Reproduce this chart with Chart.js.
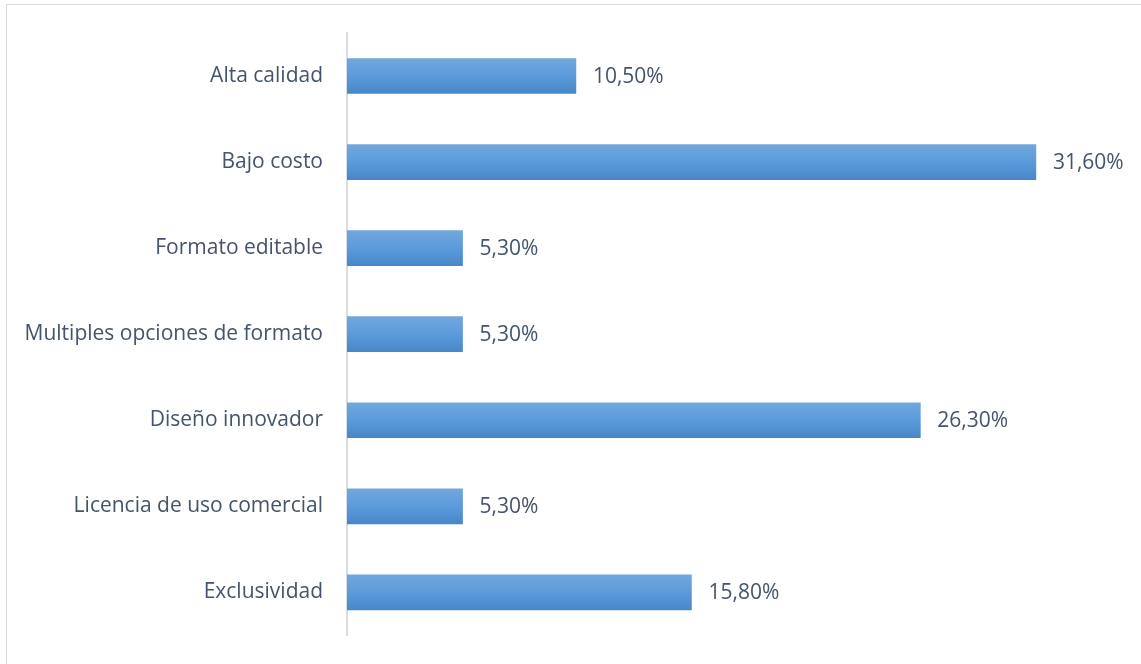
<!DOCTYPE html>
<html lang="es">
<head>
  <meta charset="UTF-8">
  <title>Atributos valorados</title>
  <script src="https://cdn.jsdelivr.net/npm/chart.js"></script>
  <style>
    html, body {
      margin: 0;
      padding: 0;
      background: #ffffff;
      overflow: hidden;
    }
    .frame {
      position: absolute;
      left: 6px;
      top: 4px;
      width: 1140px;
      height: 662px;
      border: 1px solid #d9dde3;
      box-sizing: border-box;
    }
    .wrap {
      position: absolute;
      left: 0;
      top: 0;
      width: 1141px;
      height: 664px;
    }
  </style>
</head>
<body>
<div class="frame"></div>
<div class="wrap">
  <canvas id="chart"></canvas>
</div>

<script>
  const categories = [
    'Alta calidad',
    'Bajo costo',
    'Formato editable',
    'Multiples opciones de formato',
    'Diseño innovador',
    'Licencia de uso comercial',
    'Exclusividad'
  ];
  const values = [10.5, 31.6, 5.3, 5.3, 26.3, 5.3, 15.8];
  const valueLabels = ['10,50%', '31,60%', '5,30%', '5,30%', '26,30%', '5,30%', '15,80%'];

  const textColor = '#44546a';
  const font = "'Open Sans', Lato, sans-serif";

  // labels drawn just past the end of each bar
  const barLabels = {
    id: 'barLabels',
    afterDatasetsDraw(chart) {
      const ctx = chart.ctx;
      const meta = chart.getDatasetMeta(0);
      ctx.save();
      ctx.fillStyle = textColor;
      ctx.font = '21px ' + font;
      ctx.textAlign = 'left';
      ctx.textBaseline = 'middle';
      meta.data.forEach((bar, i) => {
        ctx.fillText(valueLabels[i], bar.x + 17, bar.y + 1);
      });
      ctx.restore();
    }
  };

  function barGradient(context) {
    const chart = context.chart;
    const y = chart.scales.y;
    if (!y || context.dataIndex === undefined) return '#5b9bd5';
    const cy = y.getPixelForValue(context.dataIndex);
    if (!isFinite(cy)) return '#5b9bd5';
    const g = chart.ctx.createLinearGradient(0, cy - 18, 0, cy + 18);
    g.addColorStop(0, '#72a7dc');
    g.addColorStop(0.5, '#5b9bdb');
    g.addColorStop(1, '#4787c9');
    return g;
  }

  new Chart(document.getElementById('chart'), {
    type: 'bar',
    data: {
      labels: categories,
      datasets: [{
        data: values,
        backgroundColor: barGradient,
        borderWidth: 0,
        barThickness: 35
      }]
    },
    options: {
      indexAxis: 'y',
      responsive: true,
      maintainAspectRatio: false,
      animation: false,
      layout: {
        padding: { top: 33, bottom: 21, left: 0, right: 31 }
      },
      plugins: {
        legend: { display: false },
        tooltip: { enabled: false }
      },
      scales: {
        x: {
          display: false,
          min: 0,
          max: 35
        },
        y: {
          afterFit(scale) { scale.width = 347; },
          grid: { display: false },
          border: { display: true, color: '#d9dde3', width: 2 },
          ticks: {
            color: textColor,
            font: { family: font, size: 21 },
            padding: 16
          }
        }
      }
    },
    plugins: [barLabels]
  });
</script>
</body>
</html>
